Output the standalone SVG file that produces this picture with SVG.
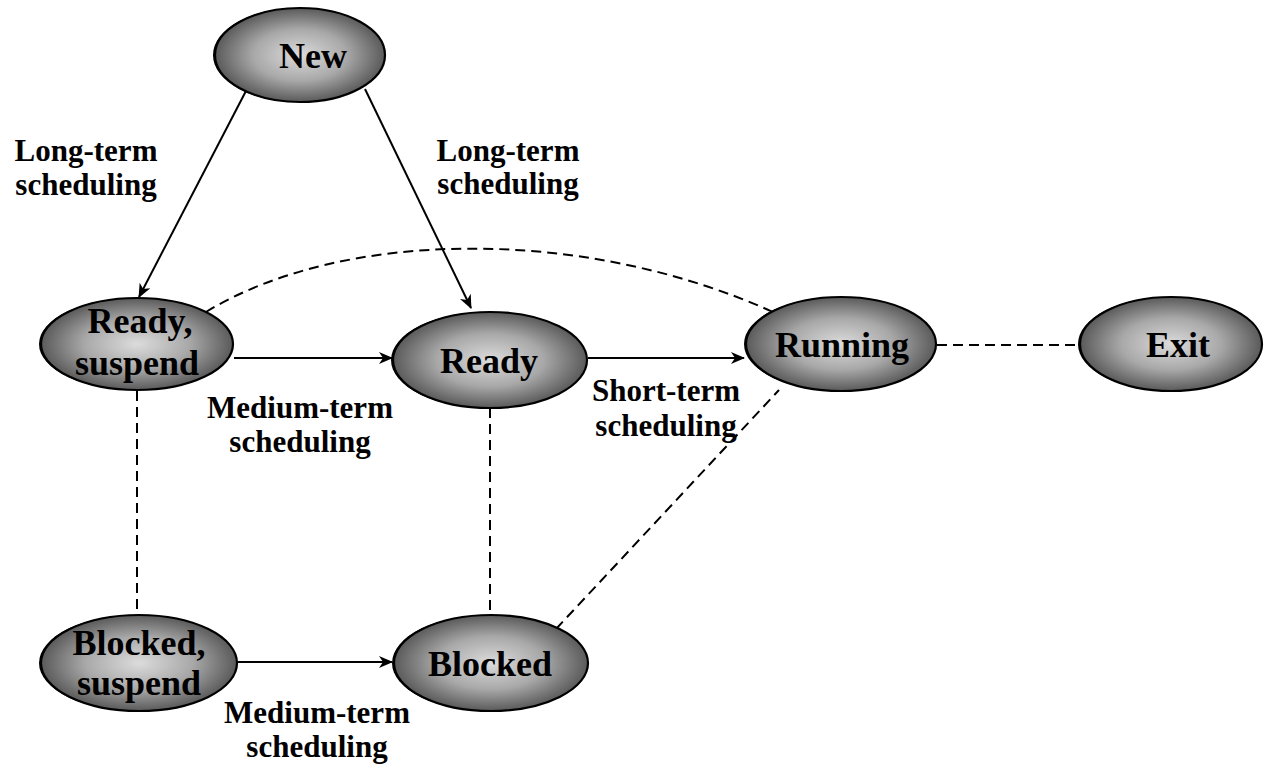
<svg xmlns="http://www.w3.org/2000/svg" width="1265" height="764" viewBox="0 0 1265 764">
  <defs>
    <radialGradient id="shade" cx="0.5" cy="0.5" r="0.5">
      <stop offset="0" stop-color="#dcdcdc"/>
      <stop offset="0.55" stop-color="#a8a8a8"/>
      <stop offset="1" stop-color="#5a5a5a"/>
    </radialGradient>
    <marker id="arrow" markerWidth="14" markerHeight="12" refX="13" refY="6" orient="auto" markerUnits="userSpaceOnUse">
      <path d="M0,0 L14,6 L0,12 L4,6 z" fill="#000"/>
    </marker>
  </defs>
  <style>
    .state ellipse.body { fill: url(#shade); stroke: #000; stroke-width: 2.2; }
    .state ellipse.rim { fill: #000; }
    .state text { font-family: "Liberation Serif", "Times New Roman", serif; font-weight: bold; font-size: 36px; text-anchor: middle; fill: #000; }
    .label { font-family: "Liberation Serif", "Times New Roman", serif; font-weight: bold; font-size: 31px; text-anchor: middle; fill: #000; }
    .solid { fill: none; stroke: #000; stroke-width: 2; marker-end: url(#arrow); }
    .dash { fill: none; stroke: #000; stroke-width: 2; stroke-dasharray: 10 6; }
  </style>

  <rect width="1265" height="764" fill="#fff"/>

  <!-- transitions -->
  <g id="connectors">
    <path class="solid" d="M247,89 L139,297"/>
    <path class="solid" d="M365,89 L471,308"/>
    <path class="solid" d="M234,358 L392,358"/>
    <path class="solid" d="M588,358 L744,358"/>
    <path class="solid" d="M238,662 L392,662"/>
    <path class="dash" d="M206,312 C340,230 580,225 773,312"/>
    <path class="dash" d="M937,345 L1079,345"/>
    <path class="dash" d="M137,391 L137,615"/>
    <path class="dash" d="M490,408 L490,615"/>
    <path class="dash" d="M556,629 L779,390"/>
  </g>

  <g id="node-new" class="state">
    <ellipse class="rim" cx="298" cy="55" rx="85" ry="47"/>
    <ellipse class="body" cx="300" cy="55" rx="85" ry="47"/>
    <text x="313" y="68">New</text>
  </g>

  <g id="node-ready-suspend" class="state">
    <ellipse class="rim" cx="135" cy="344" rx="96" ry="46"/>
    <ellipse class="body" cx="137" cy="344" rx="96" ry="46"/>
    <text x="140" y="333">Ready,</text>
    <text x="137" y="375">suspend</text>
  </g>

  <g id="node-ready" class="state">
    <ellipse class="rim" cx="488" cy="360" rx="97" ry="48"/>
    <ellipse class="body" cx="490" cy="360" rx="97" ry="48"/>
    <text x="489" y="373">Ready</text>
  </g>

  <g id="node-running" class="state">
    <ellipse class="rim" cx="839" cy="344" rx="95" ry="47"/>
    <ellipse class="body" cx="841" cy="344" rx="95" ry="47"/>
    <text x="842" y="357">Running</text>
  </g>

  <g id="node-exit" class="state">
    <ellipse class="rim" cx="1169" cy="344" rx="91" ry="47"/>
    <ellipse class="body" cx="1171" cy="344" rx="91" ry="47"/>
    <text x="1178" y="357">Exit</text>
  </g>

  <g id="node-blocked-suspend" class="state">
    <ellipse class="rim" cx="137" cy="663" rx="98" ry="48"/>
    <ellipse class="body" cx="139" cy="663" rx="98" ry="48"/>
    <text x="139" y="655">Blocked,</text>
    <text x="139" y="695">suspend</text>
  </g>

  <g id="node-blocked" class="state">
    <ellipse class="rim" cx="489" cy="663" rx="97" ry="48"/>
    <ellipse class="body" cx="491" cy="663" rx="97" ry="48"/>
    <text x="490" y="676">Blocked</text>
  </g>

  <!-- transition labels -->
  <g id="labels">
    <text class="label" x="86" y="161">Long-term</text>
    <text class="label" x="86" y="195">scheduling</text>
    <text class="label" x="508" y="161">Long-term</text>
    <text class="label" x="508" y="194">scheduling</text>
    <text class="label" x="300" y="418">Medium-term</text>
    <text class="label" x="300" y="452">scheduling</text>
    <text class="label" x="666" y="401">Short-term</text>
    <text class="label" x="666" y="436">scheduling</text>
    <text class="label" x="317" y="723">Medium-term</text>
    <text class="label" x="317" y="757">scheduling</text>
  </g>
</svg>
